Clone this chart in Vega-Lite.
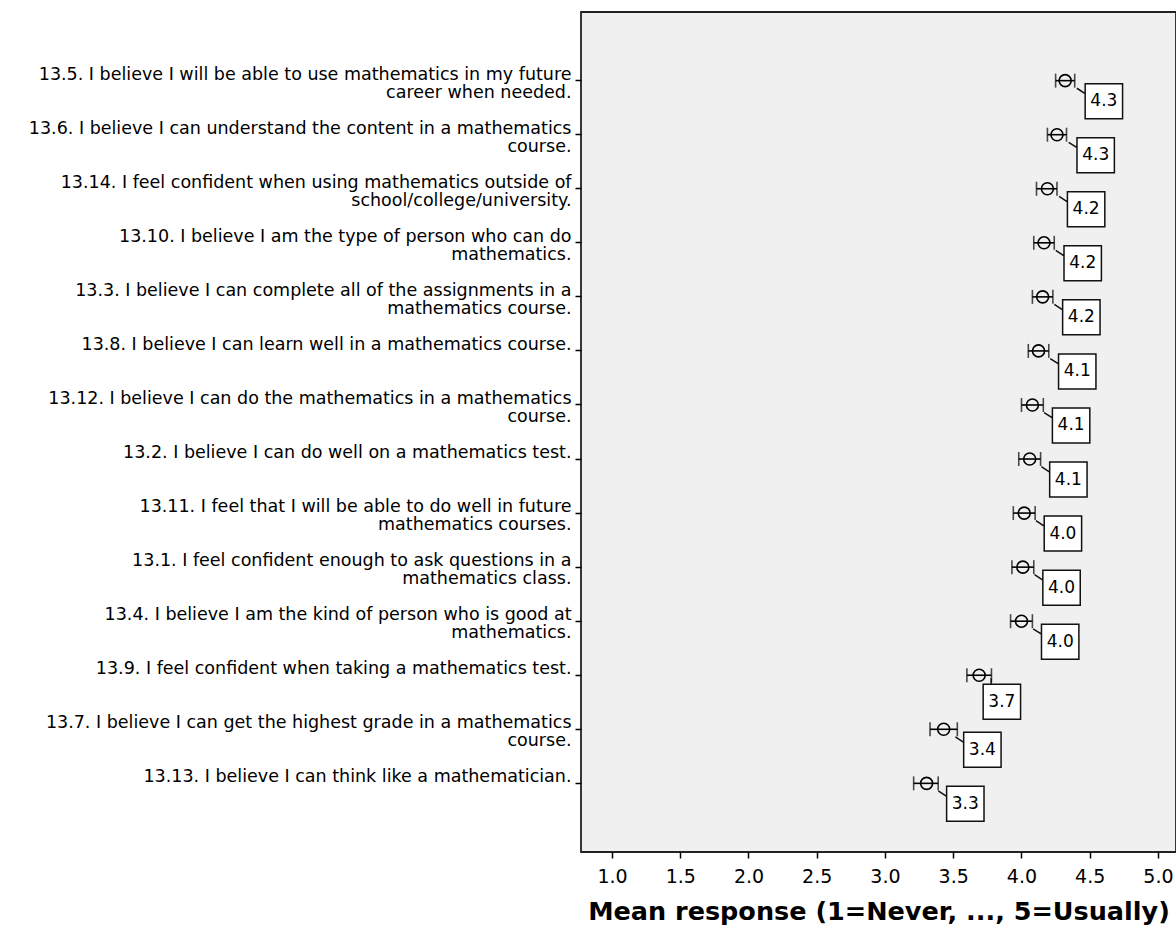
{
  "$schema": "https://vega.github.io/schema/vega-lite/v6.json",
  "autosize": {"type": "none"},
  "padding": {"left": 581, "top": 12, "right": 0, "bottom": 88},
  "width": 595,
  "height": 840,
  "background": "#ffffff",
  "config": {
    "view": {"fill": "#F0F0F0", "stroke": "#222222", "strokeWidth": 1.8},
    "font": "DejaVu Sans"
  },
  "data": {
    "values": [
      {"item": "13.5. I believe I will be able to use mathematics in my future|career when needed.", "mean": 4.32, "lo": 4.25, "hi": 4.39},
      {"item": "13.6. I believe I can understand the content in a mathematics|course.", "mean": 4.26, "lo": 4.19, "hi": 4.33},
      {"item": "13.14. I feel confident when using mathematics outside of|school/college/university.", "mean": 4.19, "lo": 4.11, "hi": 4.26},
      {"item": "13.10. I believe I am the type of person who can do|mathematics.", "mean": 4.165, "lo": 4.09, "hi": 4.24},
      {"item": "13.3. I believe I can complete all of the assignments in a|mathematics course.", "mean": 4.155, "lo": 4.08, "hi": 4.23},
      {"item": "13.8. I believe I can learn well in a mathematics course.", "mean": 4.125, "lo": 4.05, "hi": 4.2},
      {"item": "13.12. I believe I can do the mathematics in a mathematics|course.", "mean": 4.08, "lo": 4.0, "hi": 4.16},
      {"item": "13.2. I believe I can do well on a mathematics test.", "mean": 4.06, "lo": 3.98, "hi": 4.14},
      {"item": "13.11. I feel that I will be able to do well in future|mathematics courses.", "mean": 4.02, "lo": 3.94, "hi": 4.1},
      {"item": "13.1. I feel confident enough to ask questions in a|mathematics class.", "mean": 4.01, "lo": 3.93, "hi": 4.09},
      {"item": "13.4. I believe I am the kind of person who is good at|mathematics.", "mean": 4.0, "lo": 3.92, "hi": 4.08},
      {"item": "13.9. I feel confident when taking a mathematics test.", "mean": 3.69, "lo": 3.6, "hi": 3.78},
      {"item": "13.7. I believe I can get the highest grade in a mathematics|course.", "mean": 3.43, "lo": 3.33, "hi": 3.53},
      {"item": "13.13. I believe I can think like a mathematician.", "mean": 3.305, "lo": 3.21, "hi": 3.39}
    ]
  },
  "encoding": {
    "y": {
      "field": "item",
      "type": "nominal",
      "sort": null,
      "scale": {"type": "band", "paddingInner": 0, "paddingOuter": 0.77},
      "axis": {
        "title": null,
        "domain": false,
        "grid": false,
        "ticks": true,
        "tickSize": 6,
        "tickColor": "#000000",
        "tickWidth": 1.5,
        "labelExpr": "split(datum.label, '|')",
        "labelFont": "DejaVu Sans",
        "labelFontSize": 17.5,
        "labelColor": "#000000",
        "labelLineHeight": 18,
        "labelBaseline": "top",
        "labelOffset": -15,
        "labelPadding": 4,
        "labelLimit": 600,
        "labelAlign": "right"
      }
    }
  },
  "layer": [
    {
      "mark": {"type": "rule", "color": "#000000", "strokeWidth": 1.6},
      "encoding": {
        "x": {
          "field": "lo",
          "type": "quantitative",
          "scale": {"domain": [0.773, 5.132], "nice": false, "zero": false},
          "axis": {
            "title": "Mean response (1=Never, ..., 5=Usually)",
            "values": [1, 1.5, 2, 2.5, 3, 3.5, 4, 4.5, 5],
            "format": ".1f",
            "domain": false,
            "grid": false,
            "tickSize": 6,
            "tickColor": "#000000",
            "tickWidth": 1.5,
            "labelFont": "DejaVu Sans",
            "labelFontSize": 19,
            "labelColor": "#000000",
            "labelPadding": 9,
            "titleFont": "DejaVu Sans",
            "titleFontSize": 25.5,
            "titleFontWeight": "bold",
            "titleColor": "#000000",
            "titlePadding": 13
          }
        },
        "x2": {"field": "hi"}
      }
    },
    {
      "mark": {"type": "tick", "color": "#000000", "thickness": 1.6, "size": 14},
      "encoding": {"x": {"field": "lo", "type": "quantitative"}}
    },
    {
      "mark": {"type": "tick", "color": "#000000", "thickness": 1.6, "size": 14},
      "encoding": {"x": {"field": "hi", "type": "quantitative"}}
    },
    {
      "mark": {"type": "point", "shape": "circle", "filled": false, "size": 144, "stroke": "#000000", "strokeWidth": 1.6, "opacity": 1},
      "encoding": {"x": {"field": "mean", "type": "quantitative"}}
    },
    {
      "transform": [{"filter": "indexof(datum.item, '13.9.') !== 0"}],
      "mark": {
        "type": "point",
        "shape": "M0.585,0.38L1,0.65M1,0.15L2.87,0.15L2.87,1.9L1,1.9Z",
        "size": 1600,
        "filled": true,
        "fill": "#ffffff",
        "fillOpacity": 1,
        "stroke": "#111111",
        "strokeWidth": 1.5,
        "opacity": 1
      },
      "encoding": {"x": {"field": "mean", "type": "quantitative"}}
    },
    {
      "transform": [{"filter": "indexof(datum.item, '13.9.') !== 0"}],
      "mark": {"type": "text", "font": "DejaVu Sans", "fontSize": 17, "color": "#000000", "align": "center", "baseline": "middle", "dx": 38.7, "dy": 20.5},
      "encoding": {
        "x": {"field": "mean", "type": "quantitative"},
        "text": {"field": "mean", "type": "quantitative", "format": ".1f"}
      }
    },
    {
      "transform": [{"filter": "indexof(datum.item, '13.9.') === 0"}],
      "mark": {
        "type": "point",
        "shape": "M0.6,0.15L0.6,0.45M0.2,0.45L2.07,0.45L2.07,2.2L0.2,2.2Z",
        "size": 1600,
        "filled": true,
        "fill": "#ffffff",
        "fillOpacity": 1,
        "stroke": "#111111",
        "strokeWidth": 1.5,
        "opacity": 1
      },
      "encoding": {"x": {"field": "mean", "type": "quantitative"}}
    },
    {
      "transform": [{"filter": "indexof(datum.item, '13.9.') === 0"}],
      "mark": {"type": "text", "font": "DejaVu Sans", "fontSize": 17, "color": "#000000", "align": "center", "baseline": "middle", "dx": 22.7, "dy": 26.5},
      "encoding": {
        "x": {"field": "mean", "type": "quantitative"},
        "text": {"field": "mean", "type": "quantitative", "format": ".1f"}
      }
    }
  ]
}
